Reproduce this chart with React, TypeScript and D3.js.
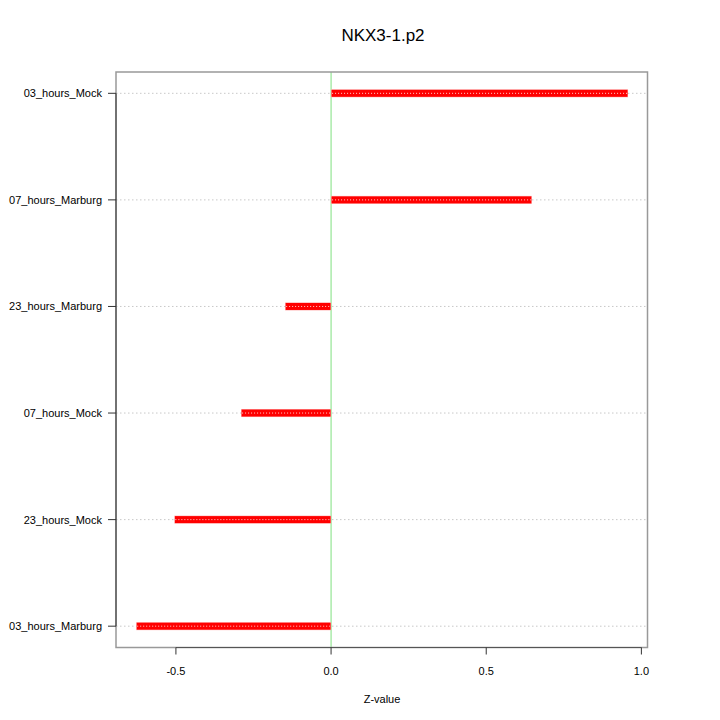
import React from "react";
import * as d3 from "d3";

const categories = ["03_hours_Mock", "07_hours_Marburg", "23_hours_Marburg", "07_hours_Mock", "23_hours_Mock", "03_hours_Marburg"];
const values = [0.957, 0.647, -0.148, -0.29, -0.505, -0.628];
const xTicks = [-0.5, 0, 0.5, 1.0];
const xTickLabels = ["-0.5", "0.0", "0.5", "1.0"];

export default function App() {
  const W = 720, H = 720;
  const left = 116, right = 647.5, top = 72, bottom = 647.5;
  const x = d3.scaleLinear().domain([-0.6931, 1.0197]).range([left, right]);
  const y = d3.scaleLinear().domain([0.8, 6.2]).range([bottom, top]);
  const yPos = (i: number) => y(categories.length - i);
  const font = "Liberation Sans, Arial, sans-serif";
  return (
    <svg width={W} height={H} style={{ position: "absolute", left: 0, top: 0, background: "#fff" }} fontFamily={font}>
      <rect x={0} y={0} width={W} height={H} fill="#fff" />
      <text x={383} y={41} textAnchor="middle" fontSize={17}>NKX3-1.p2</text>
      {categories.map((c, i) => (
        <line key={"g" + c} x1={left} x2={right} y1={yPos(i)} y2={yPos(i)} stroke="#c8c8c8" strokeWidth={1} strokeDasharray="1.5,2.5" />
      ))}
      <line x1={x(0)} x2={x(0)} y1={top} y2={bottom} stroke="#7fe07f" strokeWidth={1} />
      {categories.map((c, i) => {
        const v = values[i];
        const x0 = Math.min(x(0), x(v)), x1 = Math.max(x(0), x(v));
        return (
          <g key={"b" + c}>
            <rect x={x0} y={yPos(i) - 4} width={x1 - x0} height={8} fill="#ffb0b0" />
            <rect x={x0 + 0.5} y={yPos(i) - 3.5} width={x1 - x0 - 1} height={7} fill="#ff0000" />
            <line x1={x0 + 1} x2={x1 - 1} y1={yPos(i)} y2={yPos(i)} stroke="#ffd0d0" strokeWidth={1} strokeDasharray="1,2" />
          </g>
        );
      })}
      <rect x={left} y={top} width={right - left} height={bottom - top} fill="none" stroke="#999" strokeWidth={1.5} />
      <line x1={left} x2={left} y1={yPos(0)} y2={yPos(5)} stroke="#333" strokeWidth={1} />
      <line x1={x(-0.5)} x2={x(1)} y1={bottom} y2={bottom} stroke="#555" strokeWidth={1} />
      {categories.map((c, i) => (
        <g key={"t" + c}>
          <line x1={left - 8} x2={left} y1={yPos(i)} y2={yPos(i)} stroke="#333" />
          <text x={102} y={yPos(i) + 4} textAnchor="end" fontSize={11}>{c}</text>
        </g>
      ))}
      {xTicks.map((t, i) => (
        <g key={"x" + t}>
          <line x1={x(t)} x2={x(t)} y1={bottom} y2={bottom + 7} stroke="#333" />
          <text x={x(t)} y={675} textAnchor="middle" fontSize={11}>{xTickLabels[i]}</text>
        </g>
      ))}
      <text x={382} y={703} textAnchor="middle" fontSize={11}>Z-value</text>
    </svg>
  );
}
